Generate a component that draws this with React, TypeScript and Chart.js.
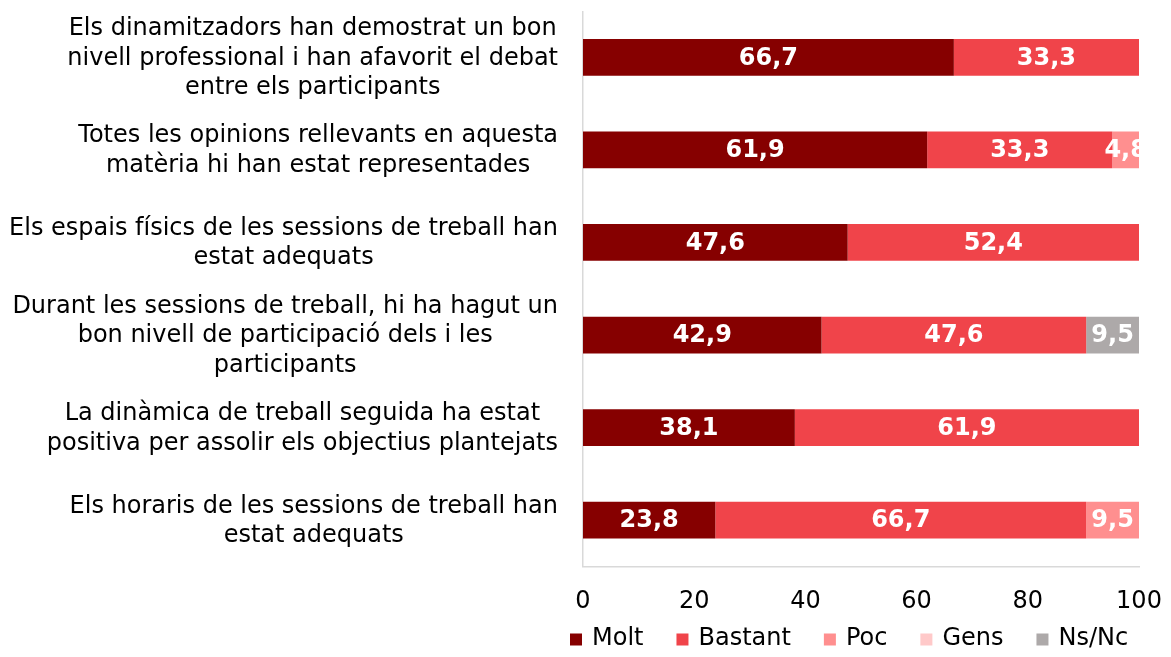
import React, { useEffect, useRef } from "react";
import { Chart, registerables } from "chart.js";

Chart.register(...registerables);

const categories: string[][] = [
  ["Els dinamitzadors han demostrat un bon", "nivell professional i han afavorit el debat", "entre els participants"],
  ["Totes les opinions rellevants en aquesta", "matèria hi han estat representades"],
  ["Els espais físics de les sessions de treball han", "estat adequats"],
  ["Durant les sessions de treball, hi ha hagut un", "bon nivell de participació dels i les", "participants"],
  ["La dinàmica de treball seguida ha estat", "positiva per assolir els objectius plantejats"],
  ["Els horaris de les sessions de treball han", "estat adequats"],
];

const seriesNames = ["Molt", "Bastant", "Poc", "Gens", "Ns/Nc"];
const molt = [66.7, 61.9, 47.6, 42.9, 38.1, 23.8];
const bastant = [33.3, 33.3, 52.4, 47.6, 61.9, 66.7];
const poc = [0, 4.8, 0, 0, 0, 9.5];
const gens = [0, 0, 0, 0, 0, 0];
const nsnc = [0, 0, 0, 9.5, 0, 0];
const xTicks = [0, 20, 40, 60, 80, 100];

const colors = ["#860000", "#F0444A", "#FF8F8F", "#FFC9C9", "#ADA9A9"];
const FONT = '"DejaVu Sans", Verdana, sans-serif';

const labelsPlugin = {
  id: "customLabels",
  afterDraw(chart: any) {
    const ctx = chart.ctx;
    const area = chart.chartArea;
    const yScale = chart.scales.y;
    ctx.save();
    // category labels
    ctx.font = `24px ${FONT}`;
    ctx.fillStyle = "#000";
    ctx.textAlign = "center";
    ctx.textBaseline = "middle";
    const rightEdge = area.left - 25;
    const lh = 29.5;
    categories.forEach((lines, i) => {
      const cy = yScale.getPixelForTick(i) + 1;
      const widest = Math.max(...lines.map((l) => ctx.measureText(l).width));
      const cx = rightEdge - widest / 2;
      lines.forEach((line, j) => {
        ctx.fillText(line, cx, cy + (j - (lines.length - 1) / 2) * lh);
      });
    });
    // bar value labels
    ctx.font = `bold 24px ${FONT}`;
    ctx.fillStyle = "#fff";
    chart.data.datasets.forEach((ds: any, di: number) => {
      const meta = chart.getDatasetMeta(di);
      meta.data.forEach((el: any, i: number) => {
        const v = ds.data[i];
        if (!v) return;
        const cx = (el.x + el.base) / 2;
        ctx.fillText(v.toFixed(1).replace(".", ","), cx, el.y + 1);
      });
    });
    // legend
    ctx.font = `24px ${FONT}`;
    ctx.textAlign = "left";
    let x = area.left - 13;
    const ly = area.bottom + 72;
    const box = 12;
    chart.data.datasets.forEach((ds: any) => {
      ctx.fillStyle = ds.backgroundColor;
      ctx.fillRect(x, ly - box / 2 + 1, box, box);
      x += box + 10;
      ctx.fillStyle = "#000";
      ctx.fillText(ds.label, x, ly);
      x += ctx.measureText(ds.label).width + 33;
    });
    ctx.restore();
  },
};

export default function App() {
  const ref = useRef<HTMLCanvasElement | null>(null);
  useEffect(() => {
    if (!ref.current) return;
    const allSeries = [molt, bastant, poc, gens, nsnc];
    const chart = new Chart(ref.current, {
      type: "bar",
      data: {
        labels: categories.map((c) => c.join(" ")),
        datasets: allSeries.map((d, i) => ({
          label: seriesNames[i],
          data: d,
          backgroundColor: colors[i],
          borderWidth: 0,
          categoryPercentage: 1,
          barPercentage: 0.397,
        })),
      },
      options: {
        indexAxis: "y",
        animation: false,
        responsive: true,
        maintainAspectRatio: false,
        layout: { padding: 0 },
        plugins: {
          legend: { display: false },
          tooltip: { enabled: false },
        },
        scales: {
          x: {
            stacked: true,
            min: 0,
            max: 100,
            afterBuildTicks: (scale: any) => {
              scale.ticks = xTicks.map((v) => ({ value: v }));
            },
            afterFit: (scale: any) => {
              scale.height = 82.5;
              scale.paddingRight = 24;
            },
            grid: { display: false, drawTicks: false },
            border: { display: true, color: "#D9D9D9", width: 1.5 },
            ticks: {
              font: { family: FONT, size: 24 },
              color: "#000",
              padding: 21,
              maxRotation: 0,
            },
          },
          y: {
            stacked: true,
            grid: { display: false, drawTicks: false },
            border: { display: true, color: "#D9D9D9", width: 1.5 },
            ticks: { display: false },
            afterFit: (scale: any) => {
              scale.width = 575;
            },
          },
        },
      },
      plugins: [labelsPlugin],
    });
    return () => chart.destroy();
  }, []);
  return (
    <div style={{ width: "1155px", height: "641px", paddingTop: "3px", boxSizing: "border-box" }}>
      <div style={{ position: "relative", width: "1155px", height: "638px" }}>
        <canvas ref={ref} />
      </div>
    </div>
  );
}
